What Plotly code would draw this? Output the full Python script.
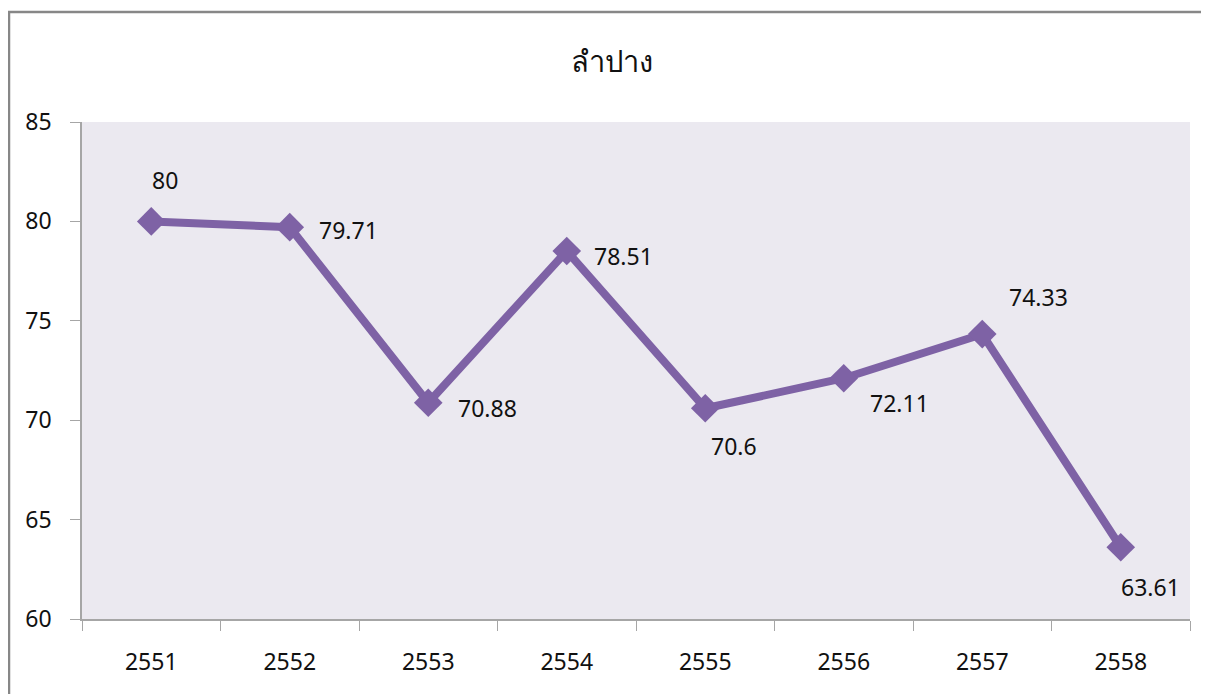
import plotly.graph_objects as go

years = ["2551", "2552", "2553", "2554", "2555", "2556", "2557", "2558"]
values = [80, 79.71, 70.88, 78.51, 70.6, 72.11, 74.33, 63.61]
labels = ["80", "79.71", "70.88", "78.51", "70.6", "72.11", "74.33", "63.61"]
title_text = "ลำปาง"

# label offsets (px) relative to the point
dx = [14, 59, 59, 57, 29, 56, 56, 30]
dy = [41, -3, -5, -5, -38, -25, 37, -40]

FONT = "'Noto Sans', Tahoma, 'DejaVu Sans', sans-serif"
color = "#7E62A5"

fig = go.Figure()
fig.add_trace(go.Scatter(
    x=years, y=values, mode="lines+markers",
    line=dict(color=color, width=8),
    marker=dict(symbol="diamond", size=22, color=color),
    showlegend=False, hoverinfo="skip",
))

for i, (y, t, ox, oy) in enumerate(zip(values, labels, dx, dy)):
    fig.add_annotation(x=i, y=y, xref="x", yref="y", text=t, showarrow=False,
                       xshift=ox, yshift=oy,
                       font=dict(size=23, color="#111111", family=FONT))

OFF = 8  # page body margin
W, H = 1209 - OFF, 694 - OFF
l, r, t, b = 82 - OFF, 19, 122 - OFF, 75
pw, ph = W - l - r, H - t - b

def px(xp):
    return (xp - OFF - l) / pw

def py(yp):
    return (H - b - (yp - OFF)) / ph

fig.add_shape(type="rect", xref="paper", yref="paper",
              x0=px(9), x1=px(1240), y0=py(12), y1=py(730),
              line=dict(color="#878787", width=2.5), fillcolor="rgba(0,0,0,0)", layer="below")

fig.add_annotation(xref="paper", yref="paper", x=px(612), y=py(61), text=title_text,
                   showarrow=False, yanchor="middle",
                   font=dict(size=29, color="#111111", family=FONT))

fig.update_layout(
    width=W, height=H,
    margin=dict(l=l, r=r, t=t, b=b),
    paper_bgcolor="white", plot_bgcolor="#EBE9F0",
    font=dict(family=FONT, size=23, color="#111111"),
    xaxis=dict(type="category", range=[-0.5, 7.5], showgrid=False, zeroline=False,
               showline=True, linecolor="#A6A6A6", linewidth=1.5,
               ticks="outside", tickson="boundaries", ticklen=10, tickcolor="#A6A6A6",
               tickfont=dict(size=23), ticklabelstandoff=22),
    yaxis=dict(range=[60, 85], dtick=5, showgrid=False, zeroline=False,
               showline=True, linecolor="#A6A6A6", linewidth=1.5,
               ticks="outside", ticklen=10, tickcolor="#A6A6A6",
               tickfont=dict(size=23), ticklabelstandoff=14),
)

fig.write_html("out.html")
